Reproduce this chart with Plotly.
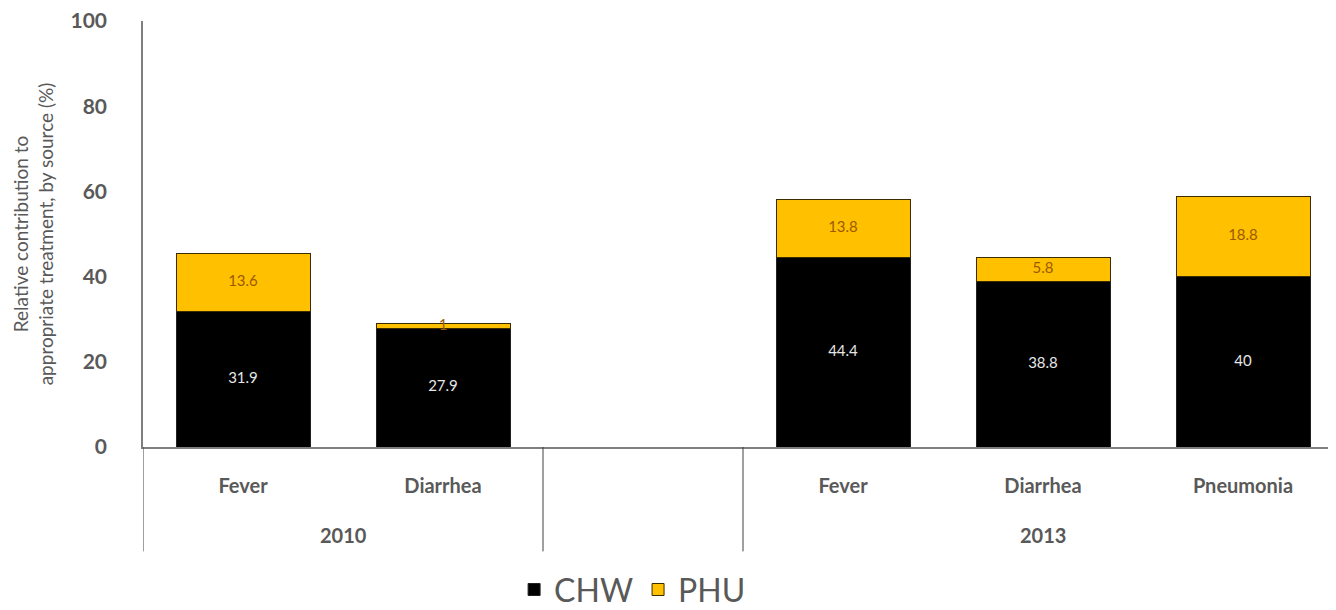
import plotly.graph_objects as go

years = ["2010", "2010", "", "2013", "2013", "2013"]
conditions = ["Fever", "Diarrhea", "", "Fever", "Diarrhea", "Pneumonia"]
chw = [31.9, 27.9, None, 44.4, 38.8, 40]
phu = [13.6, 1, None, 13.8, 5.8, 18.8]

pos = list(range(len(conditions)))
grey = "#595959"
font = "Lato"

# label positions: middle of each segment
chw_mid = [v / 2 if v is not None else None for v in chw]
phu_mid = [c + p / 2 if p is not None else None for c, p in zip(chw, phu)]

fig = go.Figure()
fig.add_trace(go.Bar(x=pos, y=chw, name="CHW",
                     marker=dict(color="#000000", line=dict(color="#222222", width=1))))
fig.add_trace(go.Bar(x=pos, y=phu, name="PHU",
                     marker=dict(color="#FFC000", line=dict(color="#3b2c00", width=1))))
fig.add_trace(go.Scatter(x=pos, y=chw_mid, mode="text", showlegend=False,
                         text=[("%g" % v) if v is not None else "" for v in chw],
                         textfont=dict(family=font, size=15, color="#e6e6e6"),
                         hoverinfo="skip"))
fig.add_trace(go.Scatter(x=pos, y=phu_mid, mode="text", showlegend=False,
                         text=[("%g" % v) if v is not None else "" for v in phu],
                         textfont=dict(family=font, size=15, color="#9c5a00"),
                         hoverinfo="skip"))

# group the categories by year: year labels + divider lines
groups = []
for i, yr in enumerate(years):
    if groups and groups[-1][0] == yr:
        groups[-1][2] = i
    else:
        groups.append([yr, i, i])

bounds = sorted({g[1] - 0.5 for g in groups} | {g[2] + 0.5 for g in groups})
for b in bounds:
    fig.add_shape(type="line", xref="x", yref="paper", x0=b, x1=b, y0=0, y1=-0.245,
                  line=dict(color="#404040", width=1))
for yr, a, b in groups:
    if yr:
        fig.add_annotation(x=(a + b) / 2, xref="x", y=-0.207, yref="paper",
                           text=yr, showarrow=False, yanchor="middle",
                           font=dict(family=font, size=20, color=grey, weight="bold"))

# page body has an 8px margin, so offsets are taken off left/top
fig.update_layout(
    barmode="stack",
    bargap=0.33,
    width=1336, height=610,
    margin=dict(l=135, r=1, t=13, b=165),
    plot_bgcolor="white", paper_bgcolor="white",
    font=dict(family=font, color=grey),
    legend=dict(orientation="h", x=0.408, xanchor="center", y=-0.335, yanchor="middle",
                font=dict(size=32, color=grey), traceorder="normal"),
)
fig.update_xaxes(
    range=[-0.5, 5.5],
    automargin=False,
    tickvals=pos, ticktext=conditions,
    showline=True, linecolor="#7f7f7f", linewidth=1.5,
    showgrid=False, zeroline=False, ticks="",
    ticklabelstandoff=20,
    tickfont=dict(family=font, size=20, color=grey, weight="bold"),
)
fig.update_yaxes(
    range=[0, 100], dtick=20,
    automargin=False,
    ticklabeloverflow="allow",
    showline=True, linecolor="#7f7f7f", linewidth=1.5,
    showgrid=False, zeroline=False, ticks="",
    ticklabelstandoff=30,
    tickfont=dict(family=font, size=21, color=grey, weight="bold"),
    title=dict(text="Relative contribution to<br>appropriate treatment, by source (%)",
               font=dict(family=font, size=19, color=grey), standoff=12),
)

fig.write_html("out.html")
